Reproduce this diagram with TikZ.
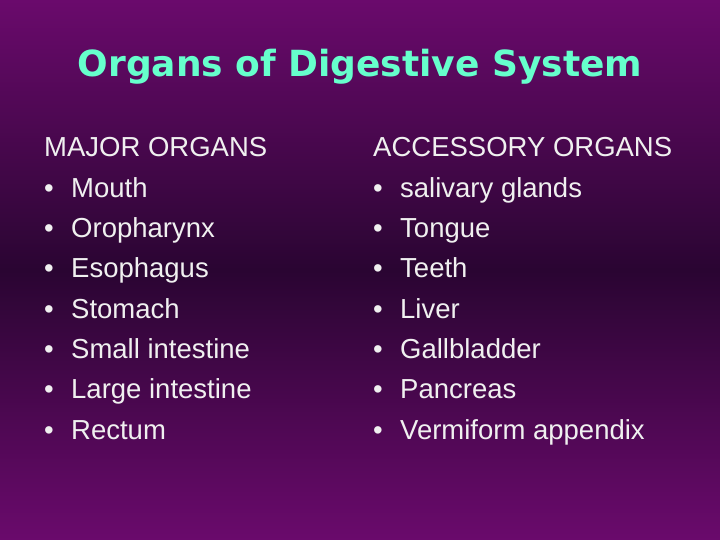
\documentclass[tikz,border=0pt]{standalone}
\usepackage{fontspec}
\setmainfont{Liberation Sans}
\newfontfamily\titlefont{DejaVu Sans}
\definecolor{slidetop}{HTML}{6A0A6C}
\definecolor{slidemid}{HTML}{2A0532}
\definecolor{titlegreen}{HTML}{66FFCC}
\tikzset{
 item/.style={anchor=base west, inner sep=0pt, text=white!94!black, font=\fontsize{27.5}{32}\selectfont},
 dot/.style={anchor=base west, inner sep=0pt, text=white!94!black, font=\fontsize{27.5}{32}\selectfont}
}
\begin{document}
\begin{tikzpicture}[x=1pt,y=1pt]

 % slide background
 \shade[top color=slidetop, bottom color=slidetop, middle color=slidemid] (0,0) rectangle (720,-540);
 \useasboundingbox (0,0) rectangle (720,-540);

 \node[text=titlegreen, font=\fontsize{36}{40}\titlefont\bfseries] (title) at (360,-67) {Organs of Digestive System};

 \node[item] (majhead) at (44,-157) {MAJOR ORGANS};
 \node[item] (acchead) at (373,-157) {ACCESSORY ORGANS};

 \foreach \txt [count=\i] in {Mouth, Oropharynx, Esophagus, Stomach, Small intestine, Large intestine, Rectum}
 {
  \node[dot] (majdot\i) at (44,-157-40.3*\i) {•};
  \node[item] (maj\i) at (71,-157-40.3*\i) {\txt};
 }

 \foreach \txt [count=\i] in {salivary glands, Tongue, Teeth, Liver, Gallbladder, Pancreas, Vermiform appendix}
 {
  \node[dot] (accdot\i) at (373,-157-40.3*\i) {•};
  \node[item] (acc\i) at (400,-157-40.3*\i) {\txt};
 }

\end{tikzpicture}
\end{document}
